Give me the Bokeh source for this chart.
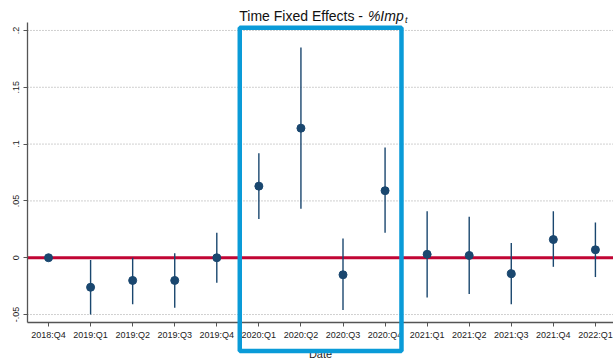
from bokeh.plotting import figure
from bokeh.models import (ColumnDataSource, Range1d, FixedTicker,
                          BoxAnnotation, Label, LinearAxis)
from bokeh.embed import file_html
from bokeh.resources import INLINE

# Quarterly time fixed effects with 95% confidence intervals
quarters = ["2018:Q4", "2019:Q1", "2019:Q2", "2019:Q3", "2019:Q4",
            "2020:Q1", "2020:Q2", "2020:Q3", "2020:Q4",
            "2021:Q1", "2021:Q2", "2021:Q3", "2021:Q4", "2022:Q1"]
coef = [0.0, -0.026, -0.020, -0.020, 0.000, 0.063, 0.114, -0.015, 0.059,
        0.003, 0.002, -0.014, 0.016, 0.007]
ci_lo = [0.0, -0.050, -0.041, -0.044, -0.022, 0.034, 0.043, -0.046, 0.022,
         -0.035, -0.032, -0.041, -0.008, -0.017]
ci_hi = [0.0, -0.002, 0.000, 0.004, 0.022, 0.092, 0.185, 0.017, 0.097,
         0.041, 0.036, 0.013, 0.041, 0.031]

y_ticks = [-0.05, 0.0, 0.05, 0.10, 0.15, 0.20]
y_tick_labels = ["-.05", "0", ".05", ".1", ".15", ".2"]

FONT = "Liberation Sans"
NAVY = "#1a476f"

# plot region limits (axes are pinned to these inside a full-canvas frame)
X_LO, X_HI = -0.5, 13.43
Y_LO, Y_HI = -0.057, 0.207

idx = list(range(len(quarters)))
src = ColumnDataSource(dict(x=idx, q=quarters, b=coef, lo=ci_lo, hi=ci_hi))

p = figure(width=613, height=359, output_backend="svg", toolbar_location=None,
           x_range=Range1d(-1.1416, X_HI), y_range=Range1d(-0.08957, 0.22637),
           x_axis_type=None, y_axis_type=None,
           min_border=0)
p.outline_line_color = None
p.background_fill_color = "white"
p.border_fill_color = "white"
p.xgrid.visible = False
p.ygrid.visible = False

xaxis = LinearAxis(fixed_location=Y_LO, bounds=(X_LO, X_HI),
                   ticker=FixedTicker(ticks=idx),
                   major_label_overrides={i: q for i, q in zip(idx, quarters)},
                   axis_label="Date")
yaxis = LinearAxis(fixed_location=X_LO, bounds=(Y_LO, Y_HI),
                   ticker=FixedTicker(ticks=y_ticks),
                   major_label_overrides={t: l for t, l in zip(y_ticks, y_tick_labels)},
                   major_label_orientation="vertical")
for ax in (xaxis, yaxis):
    ax.axis_line_color = "#555555"
    ax.axis_line_width = 1.3
    ax.major_tick_line_color = "#555555"
    ax.major_tick_in = 0
    ax.major_tick_out = 4
    ax.minor_tick_line_color = None
    ax.major_label_text_font = FONT
    ax.major_label_text_font_size = "9px"
    ax.major_label_text_color = "#222222"
    ax.major_label_standoff = 4
xaxis.axis_label_text_font = FONT
xaxis.axis_label_text_font_style = "normal"
xaxis.axis_label_text_font_size = "11px"
xaxis.axis_label_text_color = "#222222"
xaxis.axis_label_standoff = 4
p.add_layout(xaxis, "below")
p.add_layout(yaxis, "left")

# dotted horizontal grid at the y ticks
n_t = len(y_ticks)
p.segment(x0=[X_LO] * n_t, y0=y_ticks, x1=[X_HI] * n_t, y1=y_ticks,
          line_color="#a0a0a0", line_dash="1 2", line_width=1)

# zero reference line
p.segment(x0=[X_LO], y0=[0], x1=[X_HI], y1=[0],
          line_color="#c10534", line_width=3)

# confidence intervals and point estimates
p.segment(x0="x", y0="lo", x1="x", y1="hi", source=src,
          line_color=NAVY, line_width=1.4)
p.scatter(x="x", y="b", source=src, size=8, fill_color=NAVY,
          line_color=NAVY)

# highlight of the 2020 quarters
p.add_layout(BoxAnnotation(left=4.546, right=8.39, top=0.2023, bottom=-0.082,
                           fill_color=None, fill_alpha=0,
                           line_color="#0a9bd8", line_alpha=1.0,
                           line_width=4.5))

# title with italic variable name and subscript
p.add_layout(Label(x=7.568, y=0.21229, text="Time Fixed Effects - ",
                   text_align="right", text_baseline="alphabetic",
                   text_font=FONT, text_font_size="14px",
                   text_color="#111111"))
p.add_layout(Label(x=7.5918, y=0.21229, text="%Imp",
                   text_align="left", text_font_style="italic",
                   text_baseline="alphabetic", text_font=FONT,
                   text_font_size="14px", text_color="#111111"))
p.add_layout(Label(x=8.471, y=0.20964, text="t",
                   text_align="left", text_font_style="italic",
                   text_baseline="alphabetic", text_font=FONT,
                   text_font_size="9px", text_color="#111111"))

open("out.html", "w").write(file_html(p, INLINE))
